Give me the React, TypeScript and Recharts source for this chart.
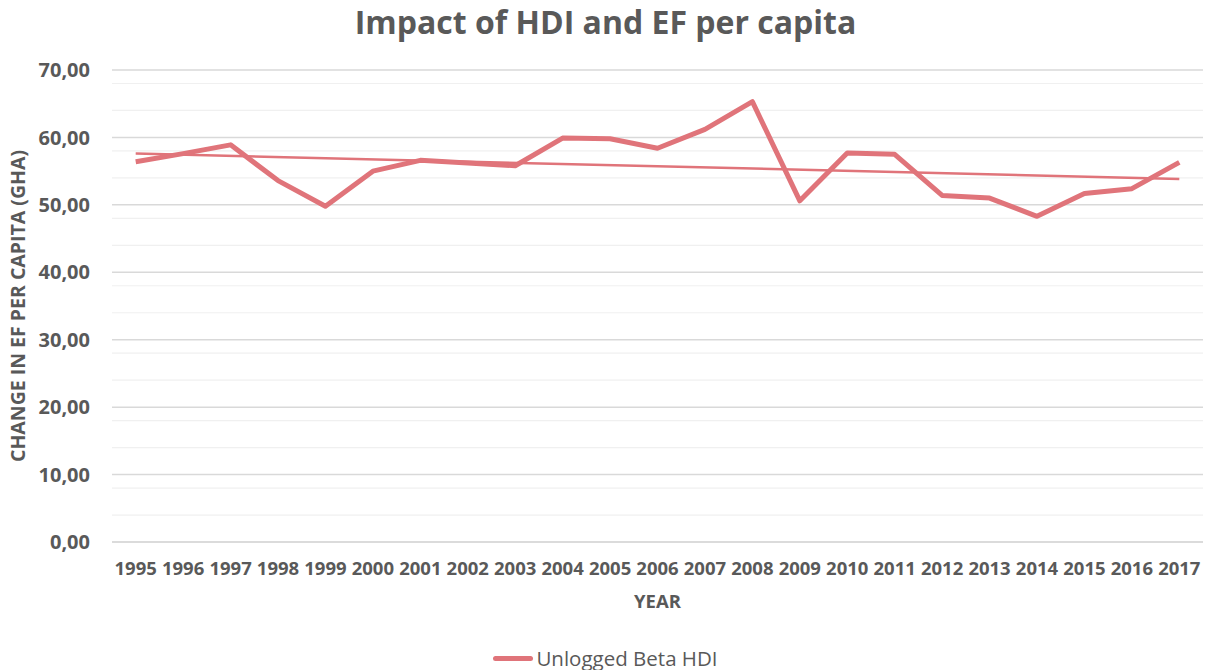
import React from 'react';
import {
  LineChart,
  Line,
  XAxis,
  YAxis,
  CartesianGrid,
  Label
} from 'recharts';

const years = [
  '1995', '1996', '1997', '1998', '1999', '2000', '2001', '2002', '2003', '2004', '2005', '2006',
  '2007', '2008', '2009', '2010', '2011', '2012', '2013', '2014', '2015', '2016', '2017'
];

const unloggedBetaHdi = [
  56.4, 57.6, 58.9, 53.6, 49.8, 55.0, 56.6, 56.2, 55.8, 59.9, 59.8, 58.4,
  61.2, 65.3, 50.6, 57.7, 57.5, 51.4, 51.0, 48.3, 51.7, 52.4, 56.3
];

// linear trend, only its two ends are kept
const trendStart = 57.6;
const trendEnd = 53.85;

const majorTicks = [0, 10, 20, 30, 40, 50, 60, 70];
const minorTicks = [
  2, 4, 6, 8, 12, 14, 16, 18, 22, 24, 26, 28, 32, 34, 36, 38,
  42, 44, 46, 48, 52, 54, 56, 58, 62, 64, 66, 68
];

const data = years.map((year, i) => ({
  year,
  hdi: unloggedBetaHdi[i],
  trend: i === 0 ? trendStart : i === years.length - 1 ? trendEnd : null
}));

const FONT = '"Open Sans", sans-serif';
const GREY = '#595959';
const RED = '#E0747A';

const formatComma = (v: number) => v.toFixed(2).replace('.', ',');

const App = () => {
  return (
    <div style={{ position: 'absolute', left: 0, top: 0, width: 1211, height: 670, background: '#fff', fontFamily: FONT }}>
      <div style={{
        position: 'absolute', left: 0, width: 1211, top: 0, textAlign: 'center',
        fontSize: 32, fontWeight: 700, color: GREY, lineHeight: '44px'
      }}>
        Impact of HDI and EF per capita
      </div>

      <LineChart
        width={1211}
        height={670}
        data={data}
        margin={{ top: 70, right: 8, left: 0, bottom: 48 }}
      >
        <CartesianGrid horizontalValues={minorTicks} vertical={false} stroke="#f0f0f0" strokeWidth={1.2} />
        <CartesianGrid vertical={false} stroke="#d9d9d9" strokeWidth={1.5} />
        <XAxis
          dataKey="year"
          height={80}
          padding={{ left: 23.7, right: 23.7 }}
          tickLine={false}
          tickSize={0}
          tickMargin={20}
          axisLine={{ stroke: '#d9d9d9', strokeWidth: 1.5 }}
          tick={{ fill: GREY, fontSize: 18.5, fontWeight: 700, fontFamily: FONT }}
          interval={0}
        >
          <Label
            value="YEAR"
            position="insideBottom"
            offset={14}
            style={{ fill: GREY, fontSize: 18.5, fontWeight: 700, fontFamily: FONT }}
          />
        </XAxis>
        <YAxis
          width={112}
          domain={[0, 70]}
          ticks={majorTicks}
          tickFormatter={formatComma}
          tickLine={false}
          tickSize={0}
          tickMargin={22}
          axisLine={false}
          tick={{ fill: GREY, fontSize: 20, fontWeight: 700, fontFamily: FONT }}
        >
          <Label
            value="CHANGE IN EF PER CAPITA (GHA)"
            angle={-90}
            position="insideLeft"
            offset={18}
            style={{ textAnchor: 'middle', fill: GREY, fontSize: 19.5, fontWeight: 700, fontFamily: FONT }}
          />
        </YAxis>
        <Line
          dataKey="trend"
          stroke={RED}
          strokeWidth={2.5}
          dot={false}
          connectNulls
          isAnimationActive={false}
        />
        <Line
          dataKey="hdi"
          stroke={RED}
          strokeWidth={5}
          dot={false}
          strokeLinejoin="round"
          isAnimationActive={false}
        />
      </LineChart>

      <div style={{
        position: 'absolute', left: 0, width: 1211, top: 644, display: 'flex',
        justifyContent: 'center', alignItems: 'center', fontSize: 20.5, color: GREY
      }}>
        <span style={{ display: 'inline-block', width: 40, height: 5, borderRadius: 3, background: RED, marginRight: 3 }} />
        <span>Unlogged Beta HDI</span>
      </div>
    </div>
  );
};

export default App;
